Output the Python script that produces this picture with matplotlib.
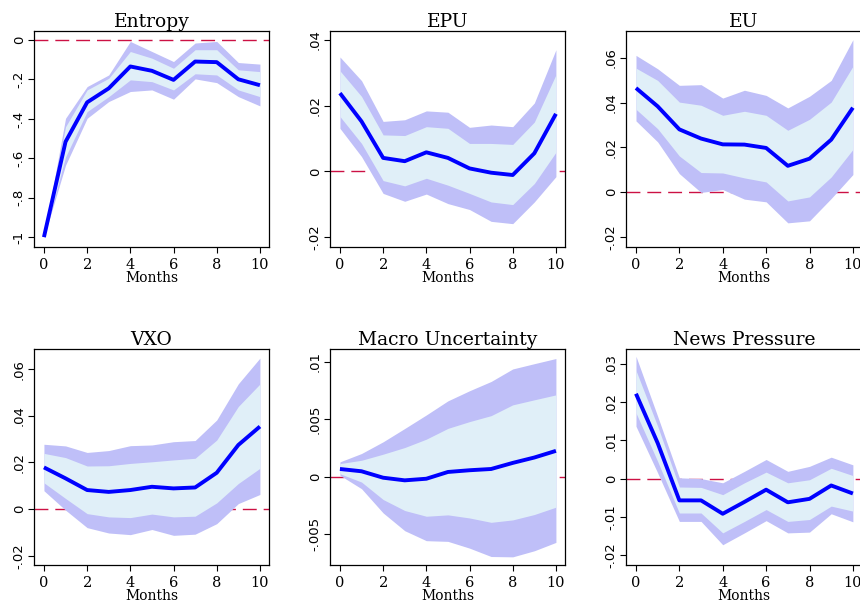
import matplotlib
matplotlib.use("Agg")
import matplotlib.pyplot as plt
import numpy as np

months = list(range(11))

titles = ["Entropy", "EPU", "EU", "VXO", "Macro Uncertainty", "News Pressure"]

entropy_irf = [-1.0, -0.516, -0.316, -0.245, -0.134, -0.156, -0.202, -0.109, -0.112, -0.199, -0.229]
entropy_hi90 = [-1.0, -0.397, -0.236, -0.177, -0.007, -0.058, -0.109, -0.015, -0.007, -0.114, -0.122]
entropy_hi68 = [-1.0, -0.44, -0.253, -0.194, -0.058, -0.092, -0.143, -0.049, -0.049, -0.151, -0.16]
entropy_lo68 = [-1.0, -0.593, -0.363, -0.287, -0.202, -0.211, -0.253, -0.171, -0.177, -0.253, -0.287]
entropy_lo90 = [-1.0, -0.635, -0.397, -0.312, -0.261, -0.253, -0.30, -0.197, -0.216, -0.287, -0.334]

epu_irf = [.0238, .0152, .0041, .0031, .0058, .0041, .0009, -.0004, -.0011, .0055, .0175]
epu_hi90 = [.0348, .0276, .0152, .0157, .0184, .018, .0134, .0141, .0136, .0208, .037]
epu_hi68 = [.0306, .0228, .0111, .0109, .0136, .0131, .0085, .0085, .0082, .015, .0294]
epu_lo68 = [.0167, .0085, -.0028, -.0044, -.0021, -.0042, -.0067, -.0093, -.0101, -.0037, .0058]
epu_lo90 = [.0131, .0045, -.0067, -.0091, -.0069, -.0098, -.0116, -.0152, -.0159, -.0093, -.0016]

eu_irf = [.0466, .0384, .0281, .024, .0214, .0213, .0198, .0118, .015, .0235, .0378]
eu_hi90 = [.0612, .0552, .0478, .0481, .0421, .0456, .0433, .0377, .0429, .05, .0682]
eu_hi68 = [.0555, .05, .0403, .0389, .0344, .0362, .0344, .0277, .0326, .0403, .0563]
eu_lo68 = [.0371, .0284, .0162, .0088, .0086, .0064, .0046, -.0039, -.0021, .0068, .0191]
eu_lo90 = [.0319, .0225, .0083, -.0001, .0012, -.0031, -.0043, -.0137, -.0128, -.0028, .0079]

vxo_irf = [.0179, .0132, .0082, .0074, .0082, .0096, .0089, .0093, .0156, .0275, .0354]
vxo_hi90 = [.0278, .0271, .0243, .0251, .0272, .0275, .0289, .0294, .0382, .0537, .0647]
vxo_hi68 = [.0239, .0221, .0185, .0186, .0196, .0203, .0211, .0218, .0296, .044, .0536]
vxo_lo68 = [.0113, .0046, -.0019, -.0033, -.0036, -.0021, -.0033, -.003, .0027, .011, .0175]
vxo_lo90 = [.0079, -.0004, -.0079, -.0102, -.0109, -.0087, -.0112, -.0107, -.0062, .0024, .0063]

macro_irf = [.00067, .00047, -.00009, -.00032, -.00018, .00041, .00056, .00067, .0012, .00167, .00225]
macro_hi90 = [.00129, .00202, .00304, .0042, .00538, .00661, .00749, .0083, .00939, .00985, .0103]
macro_hi68 = [.00114, .00143, .00196, .00254, .00327, .00421, .0048, .00532, .00626, .0067, .00713]
macro_lo68 = [.00026, -.00047, -.00199, -.00295, -.00345, -.00333, -.0036, -.00398, -.00377, -.0033, -.00266]
macro_lo90 = [.00012, -.00105, -.00316, -.00471, -.00558, -.00564, -.00623, -.00696, -.00699, -.00646, -.00573]

news_irf = [.0222, .0093, -.0057, -.0057, -.0092, -.0061, -.0029, -.0062, -.0053, -.0018, -.0039]
news_hi90 = [.032, .0163, .0002, 0.0, -.0011, .0019, .005, .0019, .0032, .0056, .0036]
news_hi68 = [.0283, .0137, -.0022, -.0023, -.0042, -.0011, .0017, -.0011, -.0003, .0027, .0008]
news_lo68 = [.0172, .0045, -.009, -.009, -.0142, -.0112, -.0081, -.0112, -.0107, -.0072, -.0085]
news_lo90 = [.0137, .0015, -.0112, -.0112, -.0173, -.0142, -.011, -.0142, -.014, -.0092, -.0113]

yticks = [
    ([0, -0.2, -0.4, -0.6, -0.8, -1.0], ["0", "-.2", "-.4", "-.6", "-.8", "-1"]),
    ([-0.02, 0, 0.02, 0.04], ["-.02", "0", ".02", ".04"]),
    ([-0.02, 0, 0.02, 0.04, 0.06], ["-.02", "0", ".02", ".04", ".06"]),
    ([-0.02, 0, 0.02, 0.04, 0.06], ["-.02", "0", ".02", ".04", ".06"]),
    ([-0.005, 0, 0.005, 0.01], ["-.005", "0", ".005", ".01"]),
    ([-0.02, -0.01, 0, 0.01, 0.02, 0.03], ["-.02", "-.01", "0", ".01", ".02", ".03"]),
]
xticks = [0, 2, 4, 6, 8, 10]
xtick_labels = ["0", "2", "4", "6", "8", "10"]

panels = [
    (entropy_irf, entropy_hi90, entropy_hi68, entropy_lo68, entropy_lo90),
    (epu_irf, epu_hi90, epu_hi68, epu_lo68, epu_lo90),
    (eu_irf, eu_hi90, eu_hi68, eu_lo68, eu_lo90),
    (vxo_irf, vxo_hi90, vxo_hi68, vxo_lo68, vxo_lo90),
    (macro_irf, macro_hi90, macro_hi68, macro_lo68, macro_lo90),
    (news_irf, news_hi90, news_hi68, news_lo68, news_lo90),
]

ylims = [(-1.05, 0.046), (-0.023, 0.0427), (-0.0245, 0.0721),
         (-0.0239, 0.0686), (-0.0077, 0.01113), (-0.0226, 0.0339)]

W, H = 860, 610
fig = plt.figure(figsize=(W / 100, H / 100), dpi=100)

# pixel boxes: left, top, right, bottom
boxes = [(34, 31, 269, 247), (330, 31, 565, 247), (626, 31, 862, 247),
         (34, 349, 269, 565), (330, 349, 565, 565), (626, 349, 862, 565)]

outer_c = "#bfbff8"
inner_c = "#e0eff8"

for i, (box, data) in enumerate(zip(boxes, panels)):
    l, t, r, b = box
    ax = fig.add_axes([l / W, 1 - b / H, (r - l) / W, (b - t) / H])
    irf, hi90, hi68, lo68, lo90 = data
    ax.axhline(0, color="#cc1144", lw=1.0, dashes=(10, 5), zorder=1)
    ax.fill_between(months, lo90, hi90, color=outer_c, lw=0, zorder=2)
    ax.fill_between(months, lo68, hi68, color=inner_c, lw=0, zorder=3)
    ax.plot(months, irf, color="#0000ff", lw=2.8, zorder=4, solid_capstyle="butt")
    ax.set_xlim(-0.46, 10.42)
    ax.set_ylim(*ylims[i])
    ax.set_xticks(xticks)
    ax.set_xticklabels(xtick_labels, fontfamily="DejaVu Serif", fontsize=10.5)
    yt, yl = yticks[i]
    ax.set_yticks(yt)
    ax.set_yticklabels(yl, rotation=90, va="center", fontfamily="DejaVu Sans", fontsize=9.5)
    ax.tick_params(axis="y", direction="out", length=4, width=0.8, pad=2)
    ax.tick_params(axis="x", direction="out", length=4, width=0.8, pad=4)
    ax.set_title(titles[i], fontfamily="DejaVu Serif", fontsize=13.5, pad=3)
    ax.set_xlabel("Months", fontfamily="DejaVu Serif", fontsize=10, labelpad=-1)
    for s in ax.spines.values():
        s.set_linewidth(0.9)
        s.set_color("black")

fig.savefig("out.png", dpi=100, facecolor="white")
